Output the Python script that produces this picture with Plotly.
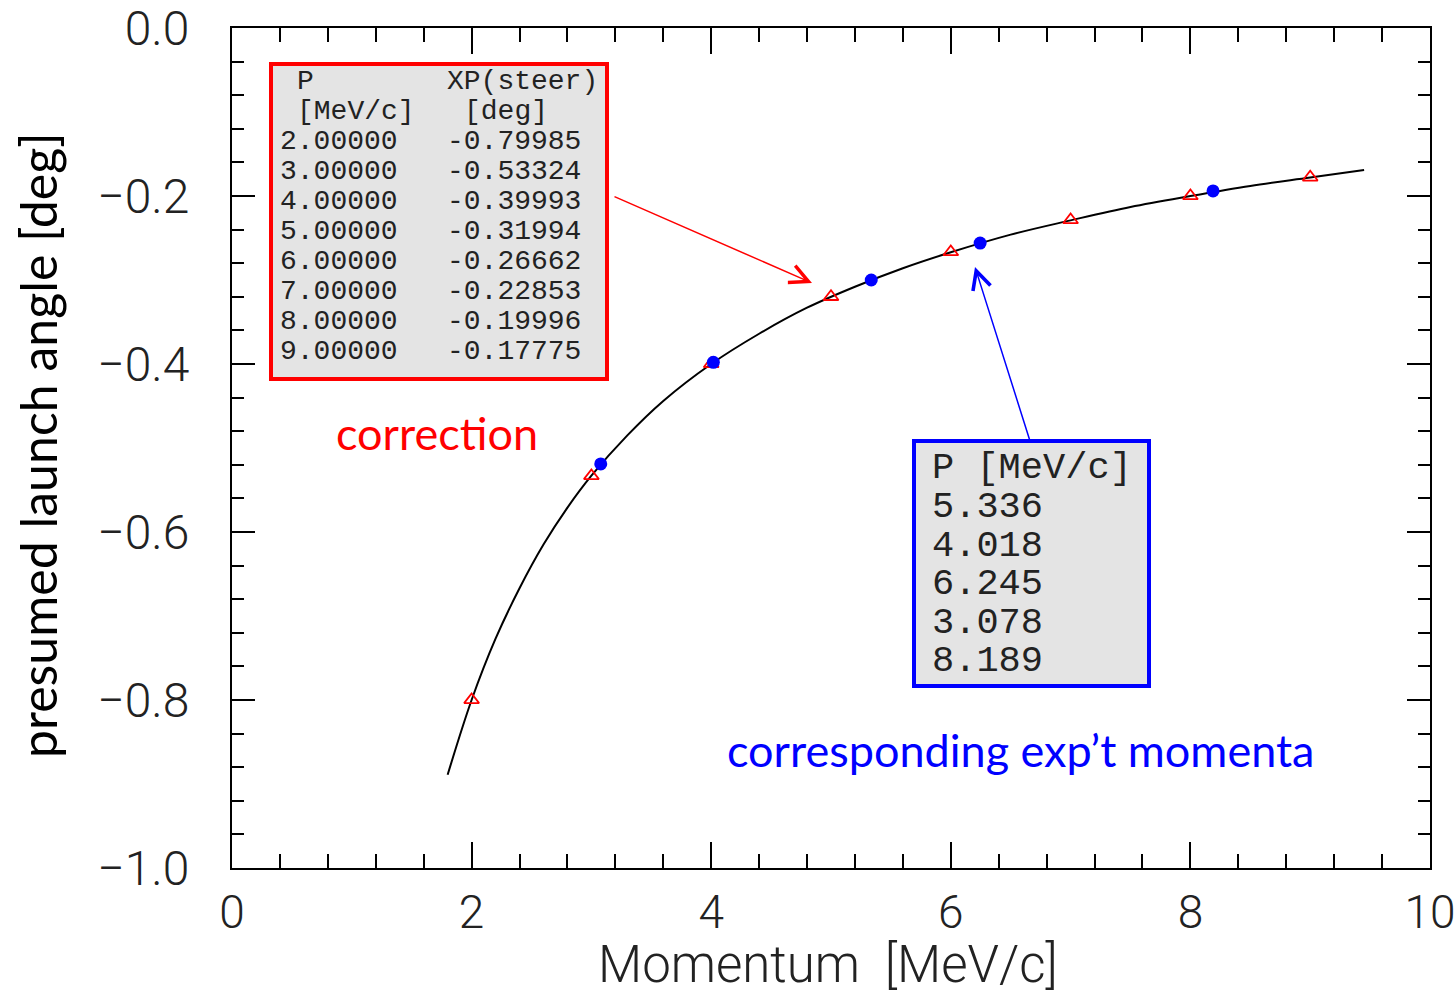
import plotly.graph_objects as go

# ---- data ----
curve_x = [1.8, 2.0, 2.2, 2.4, 2.6, 2.8, 3.0, 3.3, 3.6, 4.0, 4.4, 4.8, 5.2, 5.6,
           6.0, 6.5, 7.0, 7.5, 8.0, 8.5, 9.0, 9.45]
curve_y = [-0.889, -0.800, -0.727, -0.667, -0.615, -0.571, -0.533, -0.485, -0.444,
           -0.400, -0.364, -0.333, -0.308, -0.286, -0.267, -0.246, -0.229, -0.213,
           -0.200, -0.188, -0.178, -0.169]

table_p = [2.0, 3.0, 4.0, 5.0, 6.0, 7.0, 8.0, 9.0]
table_xp = [-0.79985, -0.53324, -0.39993, -0.31994, -0.26662, -0.22853, -0.19996, -0.17775]

expt_p = [5.336, 4.018, 6.245, 3.078, 8.189]
expt_xp = [-0.300, -0.398, -0.256, -0.519, -0.194]

x_tickvals = [0, 2, 4, 6, 8, 10]
x_ticktext = ["0", "2", "4", "6", "8", "10"]
y_tickvals = [-1.0, -0.8, -0.6, -0.4, -0.2, 0.0]
y_ticktext = ["\u22121.0", "\u22120.8", "\u22120.6", "\u22120.4", "\u22120.2", "0.0"]

# ---- layout geometry (pixels) ----
W, H = 1455, 999
PL, PR, PT, PB = 232, 1430, 28, 868


def dx(px):
    return (px - PL) / (PR - PL) * 10.0


def dy(py):
    return -(py - PT) / (PB - PT)


MONO = "Liberation Mono, DejaVu Sans Mono, monospace"
SANS = "Lato, Open Sans, Noto Sans, sans-serif"
TXT = "#222222"

fig = go.Figure()
fig.add_trace(go.Scatter(x=curve_x, y=curve_y, mode="lines",
                         line=dict(color="black", width=2, shape="spline"),
                         showlegend=False, hoverinfo="skip"))
fig.add_trace(go.Scatter(x=table_p, y=table_xp, mode="markers",
                         marker=dict(symbol="triangle-up-open", size=13, color="red",
                                     line=dict(width=1.8, color="red")),
                         showlegend=False))
fig.add_trace(go.Scatter(x=expt_p, y=expt_xp, mode="markers",
                         marker=dict(symbol="circle", size=13, color="#0000ff"),
                         showlegend=False))

axis_common = dict(showline=True, linecolor="black", linewidth=2, mirror="ticks",
                   ticks="inside", tickcolor="black", tickwidth=2, automargin=False,
                   ticklabeloverflow="allow",
                   showgrid=False, zeroline=False)

fig.update_xaxes(range=[0, 10], tickmode="array", tickvals=x_tickvals, ticktext=x_ticktext,
                 ticklen=26, ticklabelstandoff=3,
                 tickfont=dict(family="Roboto", size=46, color=TXT, weight=300),
                 minor=dict(dtick=0.4, tick0=0, ticks="inside", ticklen=14,
                            tickwidth=2, tickcolor="black", showgrid=False),
                 **axis_common)
fig.update_yaxes(range=[-1, 0], tickmode="array", tickvals=y_tickvals, ticktext=y_ticktext,
                 ticklen=23, ticklabelstandoff=31,
                 tickfont=dict(family="Roboto", size=48, color=TXT, weight=300),
                 minor=dict(dtick=0.04, tick0=0, ticks="inside", ticklen=12,
                            tickwidth=2, tickcolor="black", showgrid=False),
                 **axis_common)

shapes = [
    dict(type="rect", xref="x", yref="y", x0=dx(271), x1=dx(607), y0=dy(64), y1=dy(379),
         line=dict(color="#ff0000", width=4), fillcolor="#e4e4e4", layer="above"),
    dict(type="rect", xref="x", yref="y", x0=dx(914), x1=dx(1149), y0=dy(441), y1=dy(686),
         line=dict(color="#0000ff", width=4), fillcolor="#e4e4e4", layer="above"),
]

annotations = []


def txt(text, px, py, size, color, family, xanchor="left", yanchor="middle", **kw):
    annotations.append(dict(text=text, x=dx(px), y=dy(py), xref="x", yref="y",
                            xanchor=xanchor, yanchor=yanchor, showarrow=False,
                            font=dict(family=family, size=size, color=color), **kw))


# red table
row0 = 81
step = 30
txt("P", 295, row0, 28, TXT, MONO)
txt("XP(steer)", 445, row0, 28, TXT, MONO)
txt("[MeV/c]", 295, row0 + step, 28, TXT, MONO)
txt("[deg]", 462, row0 + step, 28, TXT, MONO)
for i, (p, v) in enumerate(zip(table_p, table_xp)):
    py = row0 + (i + 2) * step
    txt(f"{p:.5f}", 278, py, 28, TXT, MONO)
    txt(f"{v:.5f}", 445, py, 28, TXT, MONO)

# blue table
txt("P [MeV/c]", 930, 468, 37, TXT, MONO)
for i, p in enumerate(expt_p):
    txt(f"{p:.3f}", 930, 507 + i * 38.5, 37, TXT, MONO)

# labels
txt("correction", 437, 433, 45, "#ff0000", SANS, xanchor="center")
txt("corresponding exp\u2019t momenta", 1020, 750, 45, "#0000ff", SANS, xanchor="center")

# arrows
annotations.append(dict(x=dx(812), y=dy(283), xref="x", yref="y", ax=613 - 812, ay=196 - 283,
                        text="", showarrow=True, arrowhead=5, arrowsize=2.4, arrowwidth=1.5,
                        arrowcolor="#ff0000", standoff=0))
annotations.append(dict(x=dx(975), y=dy(267), xref="x", yref="y", ax=1030 - 975, ay=441 - 267,
                        text="", showarrow=True, arrowhead=5, arrowsize=2.4, arrowwidth=1.5,
                        arrowcolor="#0000ff", standoff=0))

# axis titles
annotations.append(dict(text="presumed launch angle [deg]", xref="paper", yref="paper",
                        x=(38 - PL) / (PR - PL), y=(PB - 445) / (PB - PT),
                        xanchor="center", yanchor="middle", textangle=-90, showarrow=False,
                        font=dict(family=SANS, size=50, color="black")))
annotations.append(dict(text="Momentum  [MeV/c]", xref="paper", yref="paper",
                        x=(828 - PL) / (PR - PL), y=(PB - 964) / (PB - PT),
                        xanchor="center", yanchor="middle", showarrow=False,
                        font=dict(family="Roboto", size=51, color=TXT, weight=300)))

fig.update_layout(width=W, height=H, margin=dict(l=PL, r=W - PR, t=PT, b=H - PB,
                                                 autoexpand=False),
                  plot_bgcolor="white", paper_bgcolor="white",
                  shapes=shapes, annotations=annotations, showlegend=False)

fig.write_html("out.html", config={"displayModeBar": False},
               post_script="document.body.style.margin='0';document.body.style.overflow='hidden';")
